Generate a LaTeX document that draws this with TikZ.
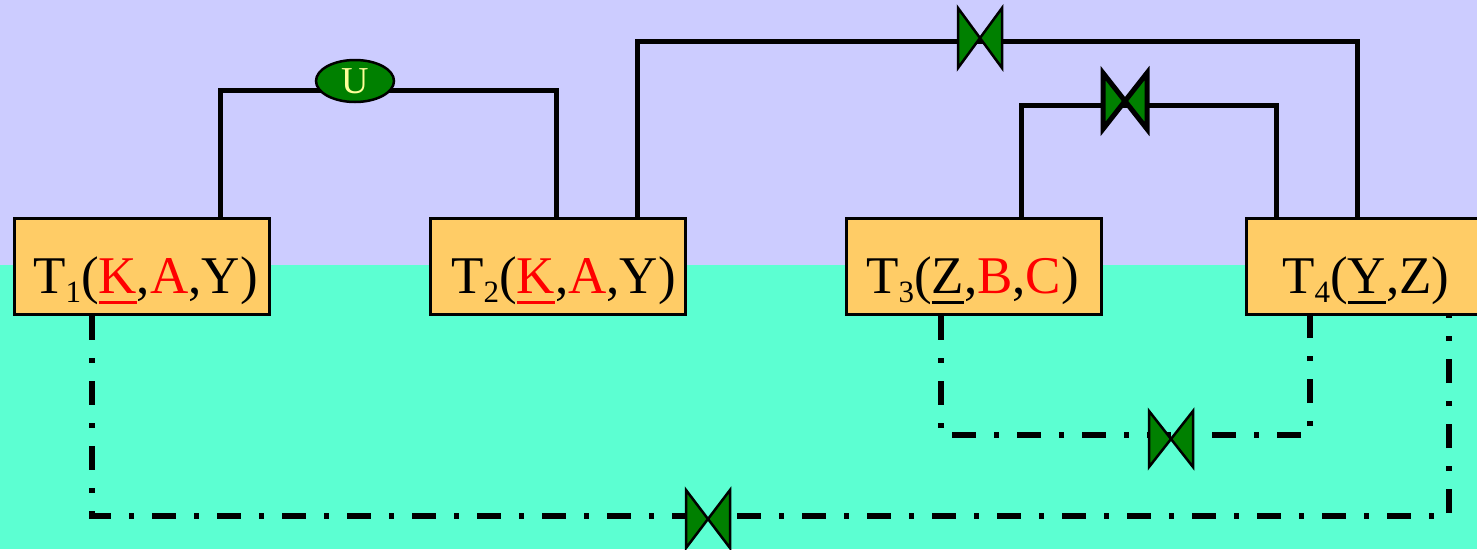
\documentclass[tikz,border=0pt]{standalone}
\usepackage{fontspec}
\setmainfont{Liberation Serif}
\usetikzlibrary{shapes.geometric,calc}
\definecolor{lav}{HTML}{CCCCFF}
\definecolor{aqua}{HTML}{5CFFD2}
\definecolor{boxfill}{HTML}{FFCC66}
\definecolor{vgreen}{HTML}{008000}
\definecolor{utext}{HTML}{FFFF99}
\newcommand\tsub[1]{\raisebox{-9pt}{\fontsize{31}{31}\selectfont #1}}
\newcommand\ulin[1]{\setbox0\hbox{#1}\rlap{\rule[-11pt]{\wd0}{3pt}}\box0}
\tikzset{pics/valve/.style n args={3}{code={\filldraw[fill=vgreen,draw=black,line width=#3,line join=miter] (-#1,#2) -- (#1,-#2) -- (#1,#2) -- (-#1,-#2) -- cycle;}}}
\begin{document}
\begin{tikzpicture}[x=1pt,y=-1pt,
  tbox/.style={draw=black, line width=3pt, fill=boxfill, minimum width=255pt, minimum height=96pt, inner sep=0pt, anchor=north west},
  lbl/.style={anchor=base west, inner sep=0pt, font=\fontsize{53}{60}\selectfont},
  pipe/.style={line width=5pt},
  dpipe/.style={line width=5.5pt, dash pattern=on 24pt off 18pt on 5pt off 18pt}]
\useasboundingbox (0,0) rectangle (1477,549);
\clip (0,0) rectangle (1477,549);
\fill[lav] (0,0) rectangle (1477,265);
\fill[aqua] (0,265) rectangle (1477,549);
% boxes
\node[tbox] (b1) at (13,217) {};
\node[tbox] (b2) at (429,217) {};
\node[tbox] (b3) at (845,217) {};
\node[tbox] (b4) at (1245,217) {};
% coordinates
\coordinate (a1) at (220,90); \coordinate (a2) at (556,90);
\coordinate (c1) at (637,41); \coordinate (c2) at (1357,41);
\coordinate (d1) at (1021,105); \coordinate (d2) at (1276,105);
\coordinate (e1) at (941,435); \coordinate (e2) at (1310,435);
\coordinate (f1) at (92,516); \coordinate (f2) at (1449,516);
% pipes
\draw[pipe] (b1.north -| a1) -- (a1) -- (a2) -- (b2.north -| a2);
\draw[pipe] (b2.north -| c1) -- (c1) -- (c2) -- (b4.north -| c2);
\draw[pipe] (b3.north -| d1) -- (d1) -- (d2) -- (b4.north -| d2);
\draw[dpipe] (b3.south -| e1) -- (e1) -- (e2) -- (b4.south -| e2);
\draw[dpipe] (b1.south -| f1) -- (f1) -- (f2) -- (b4.south -| f2);
% labels
\node[lbl] (l1) at (33,293) {T\tsub{1}(\textcolor{red}{\ulin{K}},\textcolor{red}{A},Y)};
\node[lbl] (l2) at (451,293) {T\tsub{2}(\textcolor{red}{\ulin{K}},\textcolor{red}{A},Y)};
\node[lbl] (l3) at (866,293) {T\tsub{3}(\ulin{Z},\textcolor{red}{B},\textcolor{red}{C})};
\node[lbl] (l4) at (1282,293) {T\tsub{4}(\ulin{Y},Z)};
% valves
\pic (v1) at (980,38) {valve={22}{30}{2.5pt}};
\pic (v2) at (1125,101) {valve={22}{28}{5pt}};
\pic (v3) at (1171,439) {valve={22}{28}{2.5pt}};
\pic (v4) at (708,519) {valve={22}{29}{2.5pt}};
\node[ellipse, draw=black, line width=2.5pt, fill=vgreen, minimum width=78pt, minimum height=42pt, inner sep=0pt, text=utext, font=\fontsize{38}{38}\selectfont] (U) at (355,81) {U};
\end{tikzpicture}
\end{document}
